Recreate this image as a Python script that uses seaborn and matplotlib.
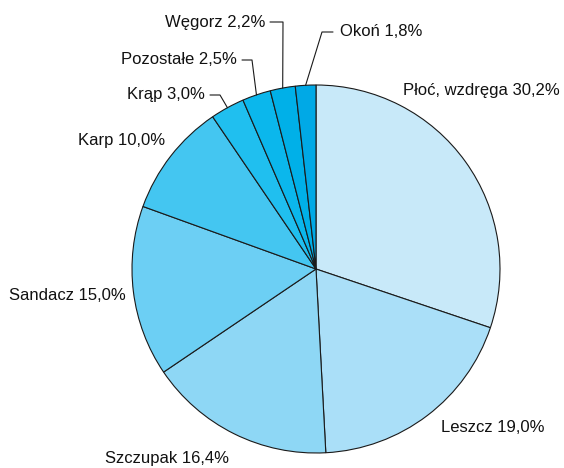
import numpy as np
import seaborn as sns
import matplotlib.pyplot as plt

species = ["Płoć, wzdręga", "Leszcz", "Szczupak", "Sandacz", "Karp",
           "Krąp", "Pozostałe", "Węgorz", "Okoń"]
shares = [30.2, 19.0, 16.4, 15.0, 10.0, 3.0, 2.5, 2.2, 1.8]
colors = ["#c8e9f9", "#aadff8", "#8ed7f5", "#6ccff4", "#44c6f1",
          "#20bfef", "#0bb7ec", "#00b0e8", "#00a9e6"]

sns.set_theme(style="white")
plt.rcParams['font.family'] = ['Liberation Sans', 'DejaVu Sans']

W, H = 564, 468
CX, CY, R = 316, 269, 184


def px(x, y):
    # pixel -> data coords (pie radius = 1)
    return (x - CX) / R, (CY - y) / R


fig = plt.figure(figsize=(W / 100, H / 100), dpi=100)
ax = fig.add_axes([0, 0, 1, 1])
wedges, _ = ax.pie(shares, colors=colors, startangle=90, counterclock=False,
                   wedgeprops=dict(edgecolor="#1a1a1a", linewidth=0.8))
ax.set_xlim(px(0, 0)[0], px(W, 0)[0])
ax.set_ylim(px(0, H)[1], px(0, 0)[1])
ax.set_aspect("equal")
ax.axis("off")

# label layout: (x px, y px, ha, elbow points px or None)
layout = [
    (403, 90, "left", None),
    (441, 427, "left", None),
    (105, 458, "left", None),
    (9, 295, "left", None),
    (78, 140, "left", None),
    (205, 95, "right", [(210, 95), (220, 95)]),
    (237, 60, "right", [(242, 60), (252, 60)]),
    (265, 22, "right", [(270, 22), (283, 22)]),
    (340, 32, "left", [(333, 32), (322, 32)]),
]

for w, name, val, (lx, ly, ha, elbow) in zip(wedges, species, shares, layout):
    label = f"{name} {val:.1f}%".replace(".", ",")
    tx, ty = px(lx, ly)
    ax.text(tx, ty, label, ha=ha, va="center", fontsize=12, color="#111111")
    if elbow:
        mid = np.deg2rad((w.theta1 + w.theta2) / 2)
        pts = [px(*p) for p in elbow] + [(np.cos(mid), np.sin(mid))]
        xs, ys = zip(*pts)
        ax.plot(xs, ys, color="#1a1a1a", linewidth=0.8)

fig.savefig("out.png", dpi=100)
